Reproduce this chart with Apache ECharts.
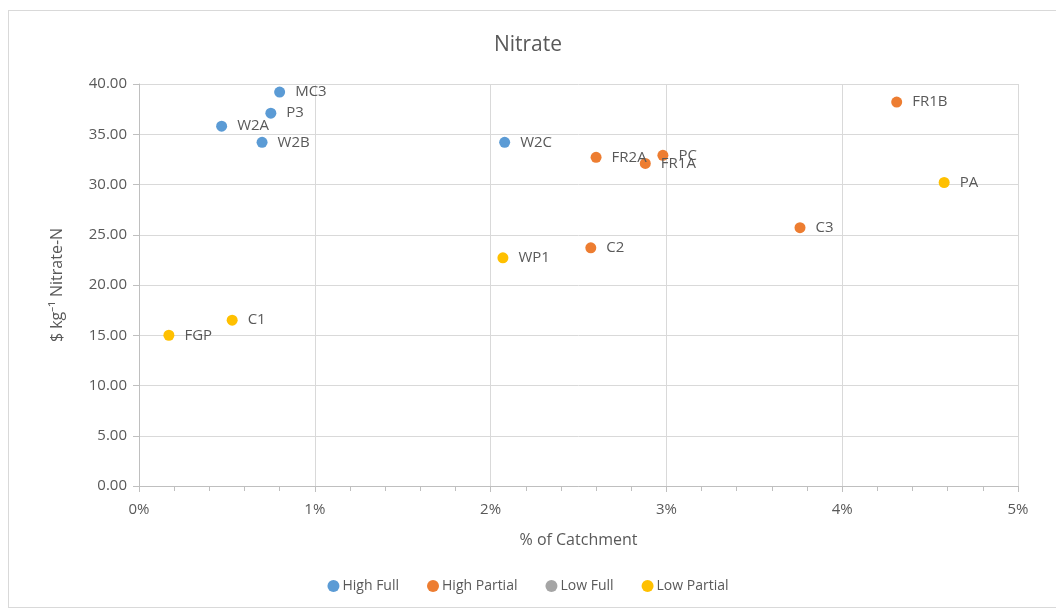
<!DOCTYPE html>
<html>
<head>
<meta charset="utf-8">
<script src="https://cdn.jsdelivr.net/npm/echarts@6/dist/echarts.min.js"></script>
<style>
  html, body { margin: 0; padding: 0; background: #fff; }
  #frame { position: absolute; left: 8px; top: 10px; width: 1060px; height: 598px; border: 1px solid #d9d9d9; box-sizing: border-box; }
  #chart { width: 1056px; height: 610px; position: absolute; left: 0; top: 0; }
</style>
</head>
<body>
<div id="frame"></div>
<div id="chart"></div>
<script>
// Sites, % of catchment and $ per kg nitrate-N, grouped by category
const highFullNames = ['MC3', 'P3', 'W2A', 'W2B', 'W2C'];
const highFullX = [0.80, 0.75, 0.47, 0.70, 2.08];
const highFullY = [39.2, 37.1, 35.8, 34.2, 34.2];

const highPartialNames = ['FR1B', 'PC', 'FR2A', 'FR1A', 'C3', 'C2'];
const highPartialX = [4.31, 2.98, 2.60, 2.88, 3.76, 2.57];
const highPartialY = [38.2, 32.9, 32.7, 32.1, 25.7, 23.7];

const lowFullNames = [];
const lowFullX = [];
const lowFullY = [];

const lowPartialNames = ['PA', 'WP1', 'C1', 'FGP'];
const lowPartialX = [4.58, 2.07, 0.53, 0.17];
const lowPartialY = [30.2, 22.7, 16.5, 15.0];

const seriesNames = ['High Full', 'High Partial', 'Low Full', 'Low Partial'];
const seriesColors = ['#5B9BD5', '#ED7D31', '#A5A5A5', '#FFC000'];

function points(names, xs, ys) {
  return names.map((n, i) => ({ name: n, value: [xs[i], ys[i]] }));
}

const groups = [
  points(highFullNames, highFullX, highFullY),
  points(highPartialNames, highPartialX, highPartialY),
  points(lowFullNames, lowFullX, lowFullY),
  points(lowPartialNames, lowPartialX, lowPartialY)
];

const textColor = '#595959';
const font = '"Open Sans", "Liberation Sans", sans-serif';

const chart = echarts.init(document.getElementById('chart'), null, { renderer: 'canvas' });

chart.setOption({
  animation: false,
  textStyle: { fontFamily: font },
  title: {
    text: 'Nitrate',
    left: 'center',
    top: 30,
    textStyle: { fontFamily: font, fontSize: 21, fontWeight: 'normal', color: textColor }
  },
  legend: {
    bottom: 12,
    left: 'center',
    itemWidth: 12,
    itemHeight: 12,
    itemGap: 28,
    icon: 'circle',
    textStyle: { fontFamily: font, fontSize: 14, color: textColor, padding: [0, 0, 0, -2] },
    data: seriesNames
  },
  grid: { left: 139, right: 38, top: 84, bottom: 124, containLabel: false },
  xAxis: {
    type: 'value',
    min: 0,
    max: 5,
    interval: 1,
    name: '% of Catchment',
    nameLocation: 'middle',
    nameGap: 46,
    nameTextStyle: { fontFamily: font, fontSize: 16, color: textColor },
    axisLine: { lineStyle: { color: '#bfbfbf' } },
    axisTick: { show: true, length: 6, lineStyle: { color: '#bfbfbf' } },
    minorTick: { show: true, splitNumber: 5, length: 5, lineStyle: { color: '#bfbfbf' } },
    axisLabel: { fontFamily: font, fontSize: 15, color: textColor, margin: 16, formatter: v => v + '%' },
    splitLine: { show: true, lineStyle: { color: '#d9d9d9' } }
  },
  yAxis: {
    type: 'value',
    min: 0,
    max: 40,
    interval: 5,
    name: '$ kg⁻¹ Nitrate-N',
    nameLocation: 'middle',
    nameGap: 74,
    nameTextStyle: { fontFamily: font, fontSize: 16, color: textColor },
    axisLine: { show: true, lineStyle: { color: '#bfbfbf' } },
    axisTick: { show: true, length: 6, lineStyle: { color: '#bfbfbf' } },
    axisLabel: { fontFamily: font, fontSize: 15, color: textColor, margin: 12, formatter: v => v.toFixed(2) },
    splitLine: { show: true, lineStyle: { color: '#d9d9d9' } }
  },
  series: seriesNames.map((name, i) => ({
    name: name,
    type: 'scatter',
    symbolSize: 11,
    itemStyle: { color: seriesColors[i], opacity: 1 },
    label: {
      show: true,
      position: 'right',
      distance: 10,
      offset: [0, 1],
      formatter: p => p.name,
      fontFamily: font,
      fontSize: 15,
      color: textColor
    },
    labelLayout: { hideOverlap: false },
    data: groups[i]
  }))
});
</script>
</body>
</html>
